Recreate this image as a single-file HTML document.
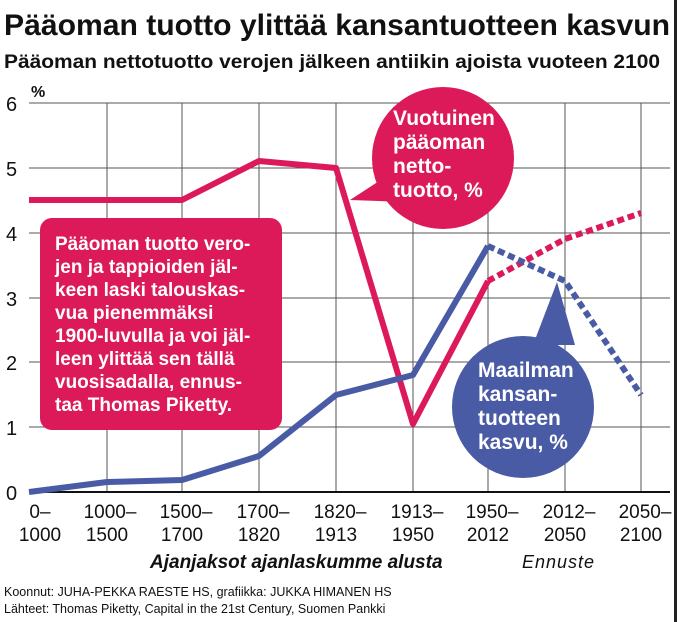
<!DOCTYPE html>
<html><head><meta charset="utf-8"><style>
html,body{margin:0;padding:0;background:#fff}
svg{display:block}
text{font-family:"Liberation Sans","DejaVu Sans",sans-serif}
</style></head><body>
<svg width="677" height="622" viewBox="0 0 677 622" xmlns="http://www.w3.org/2000/svg">
<rect width="677" height="622" fill="#fff"/>
<rect x="674" y="0" width="3" height="622" fill="#222"/>
<text x="4" y="35" font-size="30" font-weight="bold" fill="#111" textLength="666" lengthAdjust="spacingAndGlyphs">Pääoman tuotto ylittää kansantuotteen kasvun</text>
<text x="4" y="68" font-size="19" font-weight="bold" fill="#111" textLength="656" lengthAdjust="spacingAndGlyphs">Pääoman nettotuotto verojen jälkeen antiikin ajoista vuoteen 2100</text>
<g stroke="#555" stroke-width="1">
<line x1="29" y1="103" x2="670" y2="103"/><line x1="29" y1="168" x2="670" y2="168"/>
<line x1="29" y1="233" x2="670" y2="233"/><line x1="29" y1="298" x2="670" y2="298"/>
<line x1="29" y1="362" x2="670" y2="362"/><line x1="29" y1="427" x2="670" y2="427"/>
<line x1="107" y1="103" x2="107" y2="492"/><line x1="182" y1="103" x2="182" y2="492"/>
<line x1="259" y1="103" x2="259" y2="492"/><line x1="336" y1="103" x2="336" y2="492"/>
<line x1="413" y1="103" x2="413" y2="492"/><line x1="488" y1="103" x2="488" y2="492"/>
<line x1="565" y1="103" x2="565" y2="492"/><line x1="641" y1="103" x2="641" y2="492"/>
</g>
<line x1="29" y1="492" x2="670" y2="492" stroke="#111" stroke-width="2"/>
<g font-size="20" fill="#111">
<text x="6" y="111">6</text><text x="6" y="176">5</text><text x="6" y="241">4</text>
<text x="6" y="306">3</text><text x="6" y="370">2</text><text x="6" y="435">1</text><text x="6" y="500">0</text>
</g>
<text x="31" y="97" font-size="16" font-weight="bold" fill="#111">%</text>
<polyline points="29,200 182,200 259,161 336,168 413,424 488,281" fill="none" stroke="#dc1a5a" stroke-width="6" stroke-linejoin="round"/>
<polyline points="488,281 565,239 641,213" fill="none" stroke="#dc1a5a" stroke-width="6" stroke-dasharray="7,4"/>
<polyline points="29,492 107,482 182,480 259,456 336,395 413,375 488,246" fill="none" stroke="#4a5ba6" stroke-width="6" stroke-linejoin="round"/>
<polyline points="488,246 565,281 641,395" fill="none" stroke="#4a5ba6" stroke-width="6" stroke-dasharray="7,4"/>
<circle cx="443" cy="158" r="71" fill="#dc1a5a"/>
<polygon points="350,200 393,172 408,202" fill="#dc1a5a"/>
<g font-size="21" font-weight="bold" fill="#fff">
<text x="393" y="125">Vuotuinen</text><text x="393" y="149">pääoman</text>
<text x="393" y="173">netto-</text><text x="393" y="197">tuotto, %</text>
</g>
<circle cx="523" cy="407" r="71" fill="#4a5ba6"/>
<polygon points="557,282 533,345 575,345" fill="#4a5ba6"/>
<g font-size="21" font-weight="bold" fill="#fff">
<text x="478" y="377">Maailman</text><text x="478" y="401">kansan-</text>
<text x="478" y="425">tuotteen</text><text x="478" y="449">kasvu, %</text>
</g>
<rect x="40" y="218" width="242" height="212" rx="12" fill="#dc1a5a"/>
<g font-size="19" font-weight="bold" fill="#fff">
<text x="55" y="250">Pääoman tuotto vero-</text>
<text x="55" y="273">jen ja tappioiden jäl-</text>
<text x="55" y="296">keen laski talouskas-</text>
<text x="55" y="319">vua pienemmäksi</text>
<text x="55" y="342">1900-luvulla ja voi jäl-</text>
<text x="55" y="365">leen ylittää sen tällä</text>
<text x="55" y="388">vuosisadalla, ennus-</text>
<text x="55" y="411">taa Thomas Piketty.</text>
</g>
<g font-size="19" fill="#111" text-anchor="middle">
<text x="40" y="518">0–</text><text x="40" y="541">1000</text>
<text x="110" y="518">1000–</text><text x="107" y="541">1500</text>
<text x="186" y="518">1500–</text><text x="182" y="541">1700</text>
<text x="263" y="518">1700–</text><text x="259" y="541">1820</text>
<text x="340" y="518">1820–</text><text x="336" y="541">1913</text>
<text x="417" y="518">1913–</text><text x="413" y="541">1950</text>
<text x="492" y="518">1950–</text><text x="488" y="541">2012</text>
<text x="569" y="518">2012–</text><text x="565" y="541">2050</text>
<text x="645" y="518">2050–</text><text x="641" y="541">2100</text>
</g>
<text x="150" y="568" font-size="19" font-weight="bold" font-style="italic" fill="#111">Ajanjaksot ajanlaskumme alusta</text>
<text x="522" y="568" font-size="18" font-style="italic" fill="#111" letter-spacing="1">Ennuste</text>
<text x="4" y="596" font-size="12.5" fill="#111">Koonnut: JUHA-PEKKA RAESTE HS, grafiikka: JUKKA HIMANEN HS</text>
<text x="4" y="613" font-size="12.5" fill="#111">Lähteet: Thomas Piketty, Capital in the 21st Century, Suomen Pankki</text>
</svg>
</body></html>
